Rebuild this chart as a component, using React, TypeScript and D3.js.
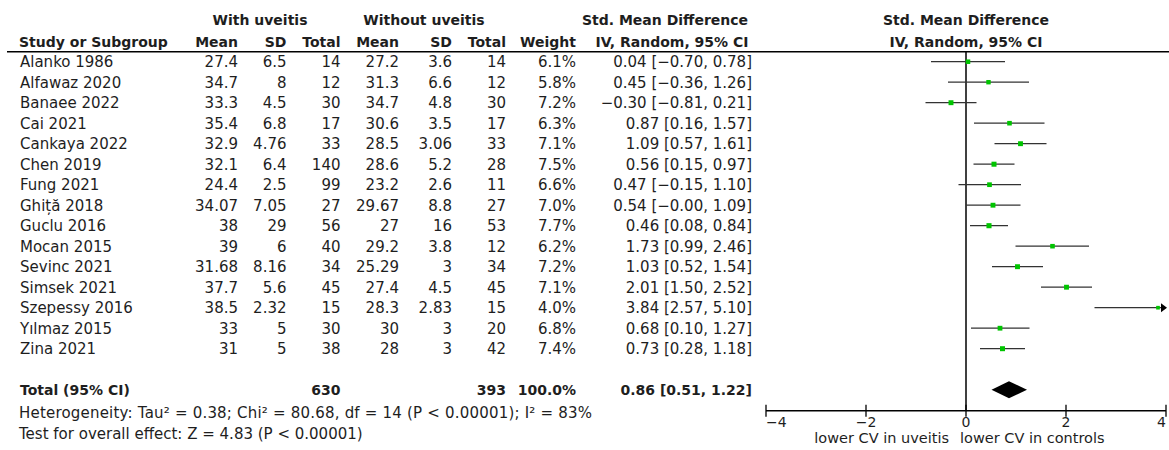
import React from "react";
import * as d3 from "d3";

const studies = ["Alanko 1986", "Alfawaz 2020", "Banaee 2022", "Cai 2021", "Cankaya 2022", "Chen 2019", "Fung 2021", "Ghiță 2018", "Guclu 2016", "Mocan 2015", "Sevinc 2021", "Simsek 2021", "Szepessy 2016", "Yılmaz 2015", "Zina 2021"];
const withMean = [27.4, 34.7, 33.3, 35.4, 32.9, 32.1, 24.4, 34.07, 38, 39, 31.68, 37.7, 38.5, 33, 31];
const withSD = [6.5, 8, 4.5, 6.8, 4.76, 6.4, 2.5, 7.05, 29, 6, 8.16, 5.6, 2.32, 5, 5];
const withN = [14, 12, 30, 17, 33, 140, 99, 27, 56, 40, 34, 45, 15, 30, 38];
const withoutMean = [27.2, 31.3, 34.7, 30.6, 28.5, 28.6, 23.2, 29.67, 27, 29.2, 25.29, 27.4, 28.3, 30, 28];
const withoutSD = [3.6, 6.6, 4.8, 3.5, 3.06, 5.2, 2.6, 8.8, 16, 3.8, 3, 4.5, 2.83, 3, 3];
const withoutN = [14, 12, 30, 17, 33, 28, 11, 27, 53, 12, 34, 45, 15, 20, 42];
const weights = [6.1, 5.8, 7.2, 6.3, 7.1, 7.5, 6.6, 7.0, 7.7, 6.2, 7.2, 7.1, 4.0, 6.8, 7.4];
const smd = [0.04, 0.45, -0.30, 0.87, 1.09, 0.56, 0.47, 0.54, 0.46, 1.73, 1.03, 2.01, 3.84, 0.68, 0.73];
const ciLow = [-0.70, -0.36, -0.81, 0.16, 0.57, 0.15, -0.15, -0.0, 0.08, 0.99, 0.52, 1.50, 2.57, 0.10, 0.28];
const ciHigh = [0.78, 1.26, 0.21, 1.57, 1.61, 0.97, 1.10, 1.09, 0.84, 2.46, 1.54, 2.52, 5.10, 1.27, 1.18];

const totalWithN = 630;
const totalWithoutN = 393;
const totalWeight = 100.0;
const totalSmd = 0.86;
const totalLow = 0.51;
const totalHigh = 1.22;

const axisTicks = [-4, -2, 0, 2, 4];
const heterogeneityText = "Heterogeneity: Tau² = 0.38; Chi² = 80.68, df = 14 (P < 0.00001); I² = 83%";
const overallText = "Test for overall effect: Z = 4.83 (P < 0.00001)";
const leftLabel = "lower CV in uveitis";
const rightLabel = "lower CV in controls";

const W = 1169;
const H = 450;
const FONT = "'DejaVu Sans', Verdana, sans-serif";
const FS = 15;
const BFS = 14;
const TXT = "#1e1e1e";

const fmt2 = (v: number) => (v < 0 || Object.is(v, -0) ? "−" : "") + Math.abs(v).toFixed(2);
const fmtNum = (v: number) => String(v);
const fmtTick = (v: number) => (v < 0 ? "−" : "") + Math.abs(v);

export default function App() {
  const x = d3.scaleLinear().domain([-4, 4]).range([766, 1166]);
  const y = d3.scaleLinear().domain([0, 16]).range([61.7, 389.7]);
  const size = d3.scaleSqrt().domain([0, 10]).range([0, 5.8]);
  const axisY = 410.7;
  const headerLineY = 51.7;
  const dy = 5.3;

  const cols = [
    { right: 238, vals: withMean, f: fmtNum },
    { right: 286.5, vals: withSD, f: fmtNum },
    { right: 340.5, vals: withN, f: fmtNum },
    { right: 399, vals: withoutMean, f: fmtNum },
    { right: 452, vals: withoutSD, f: fmtNum },
    { right: 506, vals: withoutN, f: fmtNum },
    { right: 576, vals: weights, f: (v: number) => v.toFixed(1) + "%" },
  ];
  const ciRight = 752;

  const bold = { fontWeight: "bold" as const };

  return (
    <div style={{ position: "absolute", left: 0, top: 0 }}>
      <svg width={W} height={H} style={{ display: "block", background: "#fff" }} fontFamily={FONT} fontSize={FS} fill={TXT}>
        {/* header rows */}
        <g style={bold} fontSize={BFS}>
          <text x={260} y={25} textAnchor="middle">With uveitis</text>
          <text x={424} y={25} textAnchor="middle">Without uveitis</text>
          <text x={665} y={25} textAnchor="middle">Std. Mean Difference</text>
          <text x={x(0)} y={25} textAnchor="middle">Std. Mean Difference</text>
          <text x={19} y={47}>Study or Subgroup</text>
          <text x={238} y={47} textAnchor="end">Mean</text>
          <text x={286.5} y={47} textAnchor="end">SD</text>
          <text x={340.5} y={47} textAnchor="end">Total</text>
          <text x={399} y={47} textAnchor="end">Mean</text>
          <text x={452} y={47} textAnchor="end">SD</text>
          <text x={506} y={47} textAnchor="end">Total</text>
          <text x={576} y={47} textAnchor="end">Weight</text>
          <text x={672} y={47} textAnchor="middle">IV, Random, 95% CI</text>
          <text x={x(0)} y={47} textAnchor="middle">IV, Random, 95% CI</text>
        </g>
        <line x1={7} x2={W} y1={headerLineY} y2={headerLineY} stroke="#000" strokeWidth={1.6} />

        {/* study rows */}
        {studies.map((s, i) => (
          <g key={s}>
            <text x={20} y={y(i) + dy}>{s}</text>
            {cols.map((c, j) => (
              <text key={j} x={c.right} y={y(i) + dy} textAnchor="end">{c.f(c.vals[i])}</text>
            ))}
            <text x={ciRight} y={y(i) + dy} textAnchor="end">{`${fmt2(smd[i])} [${fmt2(ciLow[i])}, ${fmt2(ciHigh[i])}]`}</text>
          </g>
        ))}

        {/* totals */}
        <g style={bold} fontSize={BFS}>
          <text x={20} y={y(16) + dy}>Total (95% CI)</text>
          <text x={340.5} y={y(16) + dy} textAnchor="end">{totalWithN}</text>
          <text x={506} y={y(16) + dy} textAnchor="end">{totalWithoutN}</text>
          <text x={576} y={y(16) + dy} textAnchor="end">{totalWeight.toFixed(1) + "%"}</text>
          <text x={ciRight} y={y(16) + dy} textAnchor="end">{`${fmt2(totalSmd)} [${fmt2(totalLow)}, ${fmt2(totalHigh)}]`}</text>
        </g>
        <text x={19} y={412.3 + dy} letterSpacing={0.2}>{heterogeneityText}</text>
        <text x={19} y={434 + dy}>{overallText}</text>

        {/* zero line */}
        <line x1={x(0)} x2={x(0)} y1={headerLineY} y2={axisY} stroke="#000" strokeWidth={1.5} />

        {/* CIs */}
        {studies.map((s, i) => {
          const lo = Math.max(-4, ciLow[i]);
          const hi = Math.min(4, ciHigh[i]);
          const sz = size(weights[i]);
          return (
            <g key={"ci" + s}>
              <line x1={x(lo)} x2={x(hi)} y1={y(i)} y2={y(i)} stroke="#333" strokeWidth={1.3} />
              {ciHigh[i] > 4 && (
                <path d={`M${x(4) + 1},${y(i)} l-6,-4.5 l0,9 Z`} fill="#000" />
              )}
              {ciLow[i] < -4 && (
                <path d={`M${x(-4) - 1},${y(i)} l6,-4.5 l0,9 Z`} fill="#000" />
              )}
              <rect x={x(smd[i]) - sz / 2} y={y(i) - sz / 2} width={sz} height={sz} fill="#00c400" />
            </g>
          );
        })}

        {/* total diamond */}
        <path
          d={`M${x(totalLow)},${y(16)} L${x(totalSmd)},${y(16) - 8.5} L${x(totalHigh)},${y(16)} L${x(totalSmd)},${y(16) + 8.5} Z`}
          fill="#000"
        />

        {/* axis */}
        <line x1={x(-4)} x2={x(4)} y1={axisY} y2={axisY} stroke="#000" strokeWidth={1.5} />
        {axisTicks.map((t, k) => (
          <g key={t}>
            <line x1={x(t)} x2={x(t)} y1={axisY - 6} y2={axisY + 6} stroke="#000" strokeWidth={1.3} />
            <text
              x={x(t)}
              y={axisY + 16}
              textAnchor={k === 0 ? "start" : k === axisTicks.length - 1 ? "end" : "middle"}
              fontSize={14}
            >
              {fmtTick(t)}
            </text>
          </g>
        ))}
        <text x={x(0) - 17} y={438 + dy} textAnchor="end" fontSize={14.5}>{leftLabel}</text>
        <text x={x(0) - 6} y={438 + dy} textAnchor="start" fontSize={14.5}>{rightLabel}</text>
      </svg>
    </div>
  );
}
